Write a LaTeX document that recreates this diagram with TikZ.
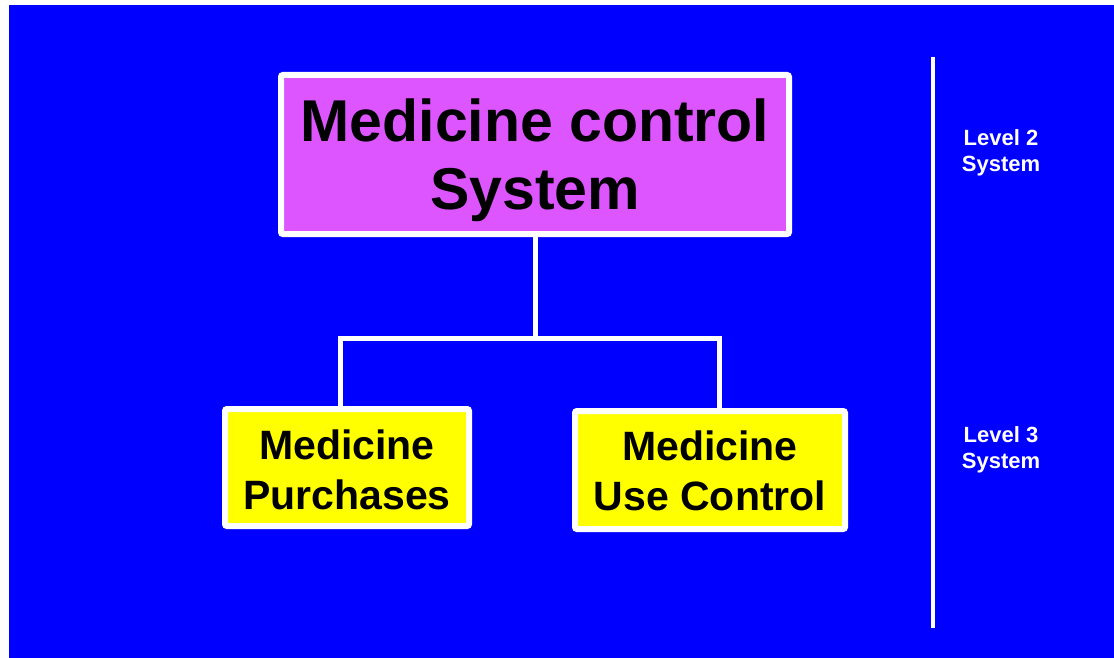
\documentclass[tikz,border=0pt]{standalone}
\usepackage{fontspec}
\setmainfont{Liberation Sans}
\definecolor{bgblue}{RGB}{0,0,255}
\definecolor{topmag}{RGB}{221,85,255}
\definecolor{subyel}{RGB}{255,255,0}
\begin{document}
\begin{tikzpicture}[x=1pt,y=-1pt,
  box/.style={draw=white, line width=6pt, rounded corners=2pt, inner sep=0pt},
  boxtext/.style={align=center, text=black, inner sep=0pt},
  link/.style={draw=white, line width=5pt},
  levellabel/.style={text=white, font=\bfseries\fontsize{22}{26}\selectfont, align=center}]

% page and background
\useasboundingbox (0,0) rectangle (1114,658);
\fill[bgblue] (9,5) rectangle (1114,658);

% connector junction points
\coordinate (hub) at (535,338);
\coordinate (bl) at (340,338);
\coordinate (br) at (719,338);

% system boxes
\node[box, fill=topmag, minimum width=508pt, minimum height=159pt] (top) at (535,154.5) {};
\node[box, fill=subyel, minimum width=244pt, minimum height=117pt] (left) at (347,467.5) {};
\node[box, fill=subyel, minimum width=270pt, minimum height=118pt] (right) at (710,470) {};

% box captions
\node[boxtext, font=\bfseries\fontsize{59}{68}\selectfont] (toptext) at ([yshift=-6pt]top.center) {Medicine control\\System};
\node[boxtext, font=\bfseries\fontsize{41}{50}\selectfont] (lefttext) at ([yshift=-2pt]left.center) {Medicine\\Purchases};
\node[boxtext, font=\bfseries\fontsize{41}{50}\selectfont] (righttext) at ([yshift=-1pt]right.center) {Medicine\\Use Control};

% tree connectors
\draw[link] (top.south) -- (hub);
\draw[link] (left.north -| bl) -- (bl) -- (br) -- (right.north -| br);

% level divider
\coordinate (vtop) at (933,57);
\coordinate (vbot) at (933,628);
\draw[white, line width=4pt] (vtop) -- (vbot);

% level labels
\node[levellabel] (lv2) at (1001,153) {Level 2\\System};
\node[levellabel] (lv3) at (1001,450) {Level 3\\System};
\end{tikzpicture}
\end{document}
